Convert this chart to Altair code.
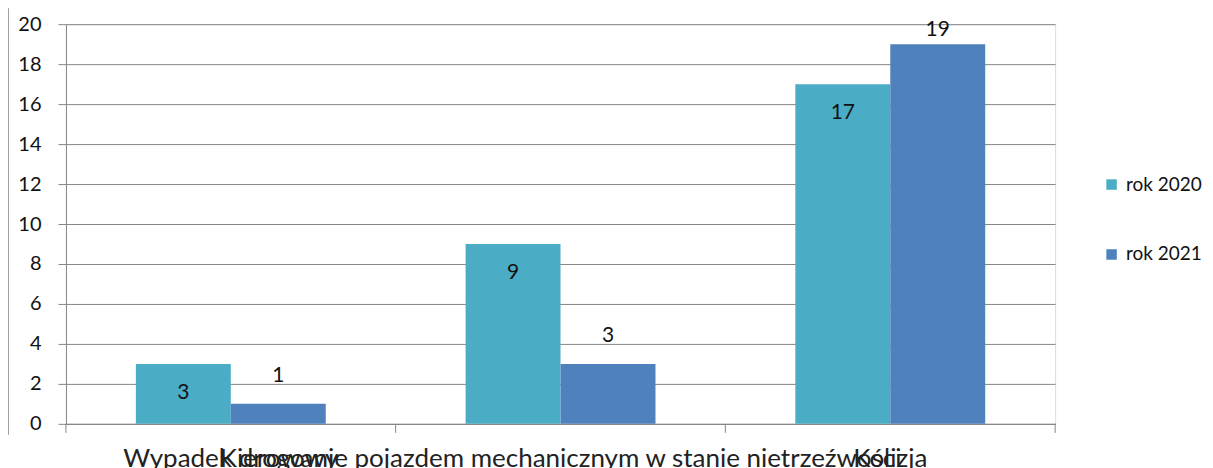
import altair as alt
import pandas as pd

categories = ["Wypadek drogowy", "Kierowanie pojazdem mechanicznym w stanie nietrzeźwości", "Kolizja"]
years = ["rok 2020", "rok 2021"]
values_2020 = [3, 9, 17]
values_2021 = [1, 3, 19]
colors = ["#4BACC6", "#4F81BD"]

rows = []
for c, v in zip(categories, values_2020):
    rows.append({"cat": c, "year": years[0], "value": v})
for c, v in zip(categories, values_2021):
    rows.append({"cat": c, "year": years[1], "value": v})
df = pd.DataFrame(rows)

xscale = alt.Scale(domain=categories, paddingInner=0.424, paddingOuter=0.212)
yscale = alt.Scale(domain=[0, 20])
cscale = alt.Scale(domain=years, range=colors)

xaxis = alt.Axis(labelAngle=0, ticks=False, labelFont="Lato", title=None,
                 labelFontSize=26, labelColor="#222222", labelPadding=22,
                 domainColor="#868686", labelLimit=0, labelOverlap=False)
yaxis = alt.Axis(values=list(range(0, 21, 2)), gridColor="#868686", domainColor="#868686",
                 tickColor="#868686", tickSize=8, labelFont="Lato", labelFontSize=20, title=None,
                 labelColor="#111111", labelPadding=17, labelOverlap=False)

base = alt.Chart(df)

bars = base.mark_bar(size=95).encode(
    x=alt.X("cat:N", scale=xscale, sort=categories, title=None, axis=xaxis),
    xOffset=alt.XOffset("year:N", sort=years),
    y=alt.Y("value:Q", scale=yscale, title=None, axis=yaxis),
    color=alt.Color("year:N", scale=cscale, title=None,
                    legend=alt.Legend(orient="none", legendX=1037, legendY=151, symbolType="square",
                                      symbolSize=110, labelFont="Lato", labelFontSize=19,
                                      labelColor="#111111", rowPadding=50, padding=0,
                                      symbolStrokeWidth=0, labelOffset=5)),
)

labels = base.transform_calculate(
    txt="datum.value"
).transform_calculate(
    value="datum.year == 'rok 2020' ? datum.value - 1.45 : min(datum.value + 1.4, 19.7)"
).mark_text(font="Lato", fontSize=21, color="#111111", baseline="middle").encode(
    x=alt.X("cat:N", scale=xscale, sort=categories, title=None, axis=xaxis),
    xOffset=alt.XOffset("year:N", sort=years),
    y=alt.Y("value:Q", scale=yscale, title=None, axis=yaxis),
    text="txt:N",
)

tick_df = pd.DataFrame({"cat": categories})
ticks_start = alt.Chart(tick_df).mark_rule(color="#868686", xOffset=-70).encode(
    x=alt.X("cat:N", scale=xscale, sort=categories, bandPosition=0, title=None, axis=xaxis),
    y=alt.value(400), y2=alt.value(409),
)
ticks_end = alt.Chart(tick_df).transform_filter(
    alt.datum.cat == categories[-1]
).mark_rule(color="#868686", xOffset=70).encode(
    x=alt.X("cat:N", scale=xscale, sort=categories, bandPosition=1, title=None, axis=xaxis),
    y=alt.value(400), y2=alt.value(409),
)
border = alt.Chart(tick_df).transform_filter(
    alt.datum.cat == categories[0]
).mark_rule(color="#A0A0A0").encode(
    x=alt.value(-57.5), y=alt.value(-16), y2=alt.value(411),
)

chart = alt.layer(bars, labels, ticks_start, ticks_end, border).properties(
    width=990, height=400,
    autosize=alt.AutoSizeParams(type="none"),
    padding={"left": 58, "top": 16, "right": 150, "bottom": 60},
).configure_view(strokeWidth=0).configure(background="white")

chart.save("out.html", embed_options={"renderer": "svg", "actions": False})
